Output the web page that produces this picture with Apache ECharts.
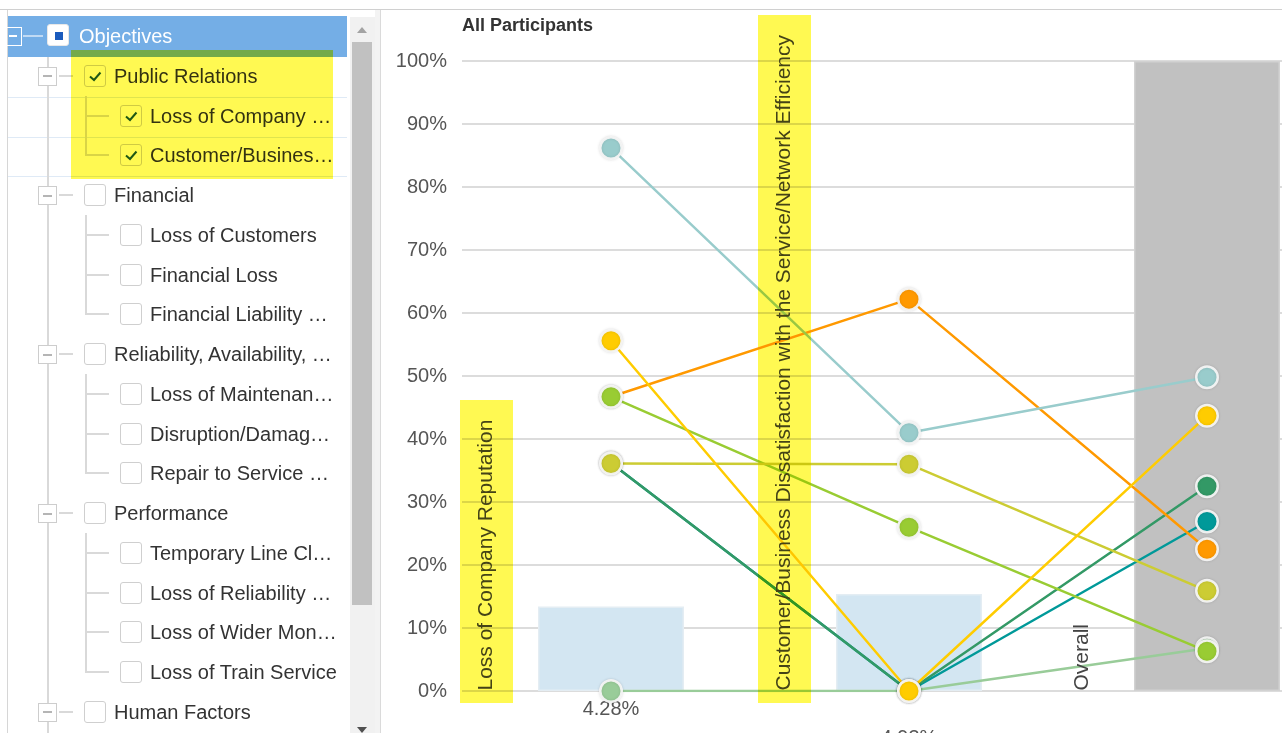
<!DOCTYPE html>
<html>
<head>
<meta charset="utf-8">
<script src="https://cdn.jsdelivr.net/npm/echarts@6/dist/echarts.min.js"></script>
<style>
html,body{margin:0;padding:0;width:1282px;height:733px;overflow:hidden;background:#fff;font-family:"Liberation Sans",Arial,sans-serif;}
.abs{position:absolute;}
.txt{position:absolute;font-size:20px;color:#333;white-space:nowrap;line-height:24px;}
.cb{position:absolute;width:20px;height:20px;border:1.5px solid #cfcfcf;border-radius:3px;background:#fff;}
.exp{position:absolute;width:17px;height:17px;border:1.5px solid #cdcdcd;background:#fff;}
.exp i{position:absolute;left:4px;top:7.5px;width:9px;height:2px;background:#b5b5b5;}
.vl{position:absolute;width:2px;background:#d9d9d9;}
.hl{position:absolute;height:2px;background:#d9d9d9;}
#wrap{position:absolute;left:381px;top:10px;width:901px;height:723px;overflow:hidden;}
#chart{position:absolute;left:0;top:0;width:1000px;height:723px;}
.mark{position:absolute;background:#fff952;mix-blend-mode:multiply;pointer-events:none;}
</style>
</head>
<body>
<div id="tree"></div>
<div id="wrap"><div id="chart"></div></div>
<script>
// ---------- data ----------
var categories = ['Loss of Company Reputation', 'Customer/Business Dissatisfaction with the Service/Network Efficiency', 'Overall'];
var categoryHighlighted = [true, true, false];
var weightLabels = ['4.28%', '4.93%', ''];
var weightBars = [13.4, 15.4, 100];
var yTicks = [0, 10, 20, 30, 40, 50, 60, 70, 80, 90, 100];

var tealValues       = [36.2, 0, 26.9];
var darkGreenValues  = [36.2, 0, 32.5];
var lightGreenValues = [0, 0, 6.8];
var orangeValues     = [46.7, 62.2, 22.5];
var limeValues       = [46.7, 26.0, 6.3];
var oliveValues      = [36.1, 36.0, 15.9];
var lightTealValues  = [86.2, 41.0, 49.8];
var yellowValues     = [55.6, 0, 43.7];

var treeItems = [
  [0, 'Objectives', 'partial'],
  [1, 'Public Relations', 'checked'],
  [2, 'Loss of Company \u2026', 'checked'],
  [2, 'Customer/Busines\u2026', 'checked'],
  [1, 'Financial', ''],
  [2, 'Loss of Customers', ''],
  [2, 'Financial Loss', ''],
  [2, 'Financial Liability \u2026', ''],
  [1, 'Reliability, Availability, \u2026', ''],
  [2, 'Loss of Maintenan\u2026', ''],
  [2, 'Disruption/Damag\u2026', ''],
  [2, 'Repair to Service \u2026', ''],
  [1, 'Performance', ''],
  [2, 'Temporary Line Cl\u2026', ''],
  [2, 'Loss of Reliability \u2026', ''],
  [2, 'Loss of Wider Mon\u2026', ''],
  [2, 'Loss of Train Service', ''],
  [1, 'Human Factors', '']
];

// ---------- tree panel (HTML) ----------
(function(){
  var h = [];
  function add(s){ h.push(s); }
  add('<div class="abs" style="left:0;top:9px;width:1282px;height:1px;background:#d0d0d0"></div>');
  add('<div class="abs" style="left:7px;top:10px;width:1px;height:723px;background:#d6d6d6"></div>');
  add('<div class="abs" style="left:8px;top:16px;width:339px;height:41px;background:#74aee6"></div>');
  [96.5, 136.5, 176].forEach(function(y){
    add('<div class="abs" style="left:8px;top:' + y + 'px;width:339px;height:1px;background:#dfeaf6"></div>');
  });
  add('<div class="vl" style="left:47px;top:57px;height:676px"></div>');
  var rowH = 39.75, y0 = 36;
  var check = '<svg width="20" height="20" style="position:absolute;left:0;top:0"><polyline points="5,10.5 9,14 15.5,6.5" fill="none" stroke="#1f5a3c" stroke-width="2"/></svg>';
  treeItems.forEach(function(it, i){
    var lvl = it[0], text = it[1], st = it[2];
    var yc = y0 + i * rowH;
    if (lvl === 0) {
      add('<div class="abs" style="left:7px;top:' + (yc-9) + 'px;width:14px;height:17px;border:1.5px solid #fff;border-left:none;"></div>');
      add('<div class="abs" style="left:9px;top:' + (yc-1) + 'px;width:8px;height:2px;background:#fff"></div>');
      add('<div class="abs" style="left:23px;top:' + (yc-1) + 'px;width:20px;height:2px;background:rgba(255,255,255,0.55)"></div>');
      add('<div class="cb" style="left:47px;top:' + (yc-12) + 'px;border-color:#e8e8e8"><div class="abs" style="left:6.5px;top:6.5px;width:8px;height:8px;background:#1a5bbd"></div></div>');
      add('<div class="txt" style="left:79px;top:' + (yc-12) + 'px;color:#fff">' + text + '</div>');
    } else if (lvl === 1) {
      add('<div class="exp" style="left:38px;top:' + (yc-9) + 'px"><i></i></div>');
      add('<div class="hl" style="left:59px;top:' + (yc-1) + 'px;width:14px"></div>');
      add('<div class="cb" style="left:84px;top:' + (yc-11) + 'px">' + (st === 'checked' ? check : '') + '</div>');
      add('<div class="txt" style="left:114px;top:' + (yc-12) + 'px">' + text + '</div>');
    } else {
      var next = treeItems[i+1];
      var last = !next || next[0] < 2;
      var top = yc - 20, bot = last ? yc + 1 : yc + 20;
      add('<div class="vl" style="left:85px;top:' + top + 'px;height:' + (bot-top) + 'px"></div>');
      add('<div class="hl" style="left:85px;top:' + (yc-1) + 'px;width:24px"></div>');
      add('<div class="cb" style="left:120px;top:' + (yc-11) + 'px">' + (st === 'checked' ? check : '') + '</div>');
      add('<div class="txt" style="left:150px;top:' + (yc-12) + 'px">' + text + '</div>');
    }
  });
  add('<div class="abs" style="left:71px;top:50px;width:262px;height:129px;background:#fff952;mix-blend-mode:multiply"></div>');
  add('<div class="abs" style="left:350px;top:17px;width:25px;height:716px;background:#f1f1f1"></div>');
  add('<div class="abs" style="left:352px;top:42px;width:20px;height:563px;background:#c1c1c1"></div>');
  add('<div class="abs" style="left:357px;top:27px;width:0;height:0;border-left:5px solid transparent;border-right:5px solid transparent;border-bottom:6px solid #a3a3a3"></div>');
  add('<div class="abs" style="left:357px;top:727px;width:0;height:0;border-left:5px solid transparent;border-right:5px solid transparent;border-top:6px solid #505050"></div>');
  add('<div class="abs" style="left:375px;top:10px;width:5px;height:723px;background:#f3f3f3"></div>');
  add('<div class="abs" style="left:380px;top:10px;width:1px;height:723px;background:#dadada"></div>');
  document.getElementById('tree').innerHTML = h.join('');
})();

// ---------- chart ----------
var FONT = '"Liberation Sans", Arial, sans-serif';
var LABEL_FONT_SIZE = 21;
var measureCtx = document.createElement('canvas').getContext('2d');
measureCtx.font = LABEL_FONT_SIZE + 'px ' + FONT;
var LABEL_INSET = 24.5;

function lineSeries(name, values, color) {
  return {
    name: name, type: 'line', data: values,
    symbol: 'circle', symbolSize: 21.5,
    lineStyle: { width: 2.5, color: color },
    itemStyle: { color: color, borderColor: 'rgba(244,244,244,0.95)', borderWidth: 2.5,
                 shadowBlur: 3, shadowColor: 'rgba(0,0,0,0.12)' },
    emphasis: { disabled: true }, silent: true, z: 3
  };
}

var chart = echarts.init(document.getElementById('chart'), null, { renderer: 'canvas' });
chart.setOption({
  animation: false,
  backgroundColor: 'transparent',
  title: {
    text: 'All Participants', left: 81, top: 7, padding: 0,
    textStyle: { fontFamily: FONT, fontSize: 18, fontWeight: 'bold', color: '#333' }
  },
  grid: { left: 81, top: 51, width: 894, height: 630, outerBoundsMode: 'none', containLabel: false },
  xAxis: {
    type: 'category', data: categories,
    axisLine: { show: false }, axisTick: { show: false },
    splitLine: { show: false },
    axisLabel: {
      interval: 0, margin: 4, fontFamily: FONT, fontSize: 20, color: '#555', lineHeight: 29,
      formatter: function (v, i) { return (i === 1 ? '\n' : '') + weightLabels[i]; }
    }
  },
  yAxis: {
    type: 'value', min: yTicks[0], max: yTicks[yTicks.length - 1], interval: 10,
    axisLine: { show: false }, axisTick: { show: false },
    axisLabel: { margin: 15, fontFamily: FONT, fontSize: 20, color: '#555', formatter: '{value}%' },
    splitLine: { show: true, lineStyle: { color: '#dcdcdc', width: 2 } }
  },
  series: [
    {
      type: 'bar', barWidth: '49%', silent: true, z: 2,
      data: weightBars.map(function (v, i) {
        return { value: v, itemStyle: { color: i === 2 ? '#c1c1c1' : '#d3e6f2',
          borderColor: i === 2 ? '#d2d2d2' : '#e4edf3', borderWidth: 1.5 } };
      })
    },
    lineSeries('teal', tealValues, '#009999'),
    lineSeries('darkGreen', darkGreenValues, '#339966'),
    lineSeries('lightGreen', lightGreenValues, '#99cc99'),
    lineSeries('orange', orangeValues, '#ff9900'),
    lineSeries('lime', limeValues, '#99cc33'),
    lineSeries('olive', oliveValues, '#cccc33'),
    lineSeries('lightTeal', lightTealValues, '#99cccc'),
    lineSeries('yellow', yellowValues, '#ffcc00'),
    {
      type: 'custom', silent: true, z: 10, clip: false,
      data: categories.map(function (c, i) { return [i, 0]; }),
      encode: { x: 0, y: 1 },
      renderItem: function (params, api) {
        var idx = api.value(0);
        var p = api.coord([idx, 0]);
        var bw = api.size([1, 0])[0];
        return {
          type: 'text',
          x: p[0] - bw / 2 + LABEL_INSET, y: p[1] - 0.5,
          rotation: Math.PI / 2,
          style: { text: categories[idx], fontFamily: FONT, fontSize: LABEL_FONT_SIZE, fill: '#444',
                   align: 'left', verticalAlign: 'middle' }
        };
      }
    }
  ]
});

// highlight marks over the rotated category labels (multiply blend like a search highlight)
(function(){
  var wrap = document.getElementById('wrap');
  var offX = wrap.offsetLeft, offY = wrap.offsetTop;
  var p0 = chart.convertToPixel({ xAxisIndex: 0, yAxisIndex: 0 }, [0, 0]);
  var p1 = chart.convertToPixel({ xAxisIndex: 0, yAxisIndex: 0 }, [1, 0]);
  var bw = p1[0] - p0[0];
  categories.forEach(function (c, i) {
    if (!categoryHighlighted[i]) return;
    var p = chart.convertToPixel({ xAxisIndex: 0, yAxisIndex: 0 }, [i, 0]);
    var w = measureCtx.measureText(c).width;
    var cx = p[0] - bw / 2 + LABEL_INSET;
    var bottom = p[1] + 12;
    var height = w + 13 + 19;
    var d = document.createElement('div');
    d.className = 'mark';
    d.style.left = (offX + cx - 26.5) + 'px';
    d.style.width = '53px';
    d.style.top = (offY + bottom - height) + 'px';
    d.style.height = height + 'px';
    document.body.appendChild(d);
  });
})();
</script>
</body>
</html>
